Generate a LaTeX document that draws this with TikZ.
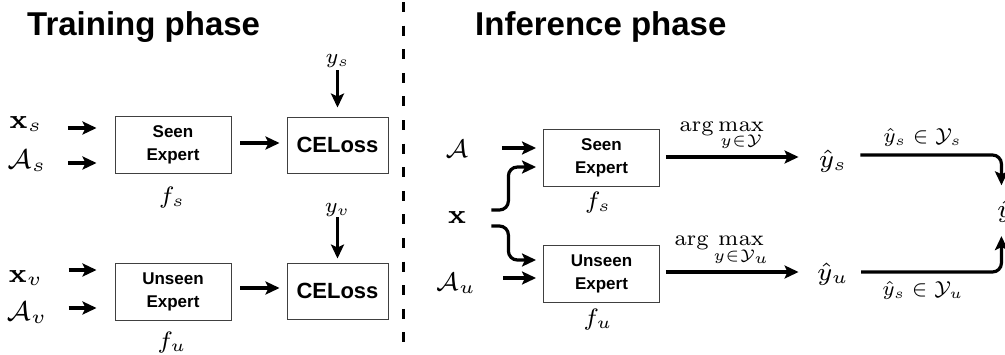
\RequirePackage{fix-cm}
\documentclass[tikz,border=0pt]{standalone}
\usepackage[no-math]{fontspec}
\usepackage{amsmath}
\setsansfont{Liberation Sans}
\usetikzlibrary{arrows.meta,calc}

% math labels are set at 7pt (wider, heavier optical size) and enlarged
\newcommand\mlab[2]{\scalebox{#1}{\fontsize{7}{8}\selectfont$#2$}}

\tikzset{
  arr/.style={line width=3.2pt, -{Stealth[length=14pt,width=13pt,inset=3pt]}},
  box/.style={draw=black!75, line width=0.9pt, minimum width=116pt, minimum height=57pt,
    inner sep=0pt, align=center, font=\sffamily\bfseries\fontsize{17}{23}\selectfont},
  loss/.style={box, minimum width=101pt, minimum height=56pt,
    font=\sffamily\bfseries\fontsize{22}{26}\selectfont},
  title/.style={font=\sffamily\bfseries\fontsize{33}{38}\selectfont, inner sep=0pt, anchor=base west},
  lbl/.style={inner sep=0pt, anchor=base},
  divider/.style={line width=3pt, dash pattern=on 10pt off 13.6pt}
}

\begin{document}
\begin{tikzpicture}[x=1pt,y=-1pt]
\useasboundingbox (0,0) rectangle (1005,354);

% headings and the divider between the two phases
\node[title] (ttrain) at (27,35) {Training phase};
\node[title] (tinf) at (475,35) {Inference phase};
\draw[divider] (403,2) -- (403,345);

% ---------- training ----------
\node[box]  (tseen)   at (173,144.5) {Seen\\Expert};
\node[loss] (tloss1)  at (337.5,145) {CELoss};
\node[box]  (tunseen) at (173,291.5) {Unseen\\Expert};
\node[loss] (tloss2)  at (337.5,291) {CELoss};

\node[lbl] (xs) at (26,128) {\mlab{3.85}{\mathbf{x}_s}};
\node[lbl] (As) at (27,168) {\mlab{3.85}{\mathcal{A}_s}};
\node[lbl] (xv) at (26,282) {\mlab{3.85}{\mathbf{x}_v}};
\node[lbl] (Av) at (27,320) {\mlab{3.85}{\mathcal{A}_v}};

\node[lbl] (ys) at (337.5,63) {\mlab{3.0}{y_s}};
\node[lbl] (yv) at (337.5,212) {\mlab{3.0}{y_v}};

\node[lbl] (fs) at (172,203) {\mlab{3.4}{f_s}};
\node[lbl] (fu) at (172,348) {\mlab{3.4}{f_u}};

\draw[arr] ($(xs.base east)+(25,0)$) -- ($(tseen.west |- xs.base)+(-18,0)$);
\draw[arr] ($(xs.base east |- As.base)+(25,-5)$) -- ($(tseen.west |- As.base)+(-18,-5)$);
\draw[arr] ($(xv.base east)+(25,-12)$) -- ($(tunseen.west |- xv.base)+(-18,-12)$);
\draw[arr] ($(xv.base east |- Av.base)+(25,-12)$) -- ($(tunseen.west |- Av.base)+(-18,-12)$);

\draw[arr] ($(tseen.east)+(9,-1.5)$) -- ($(tloss1.west)+(-7,-2)$);
\draw[arr] ($(tunseen.east)+(9,-3.5)$) -- ($(tloss2.west)+(-7,-3)$);

\draw[arr] ($(ys.base)+(0,7)$) -- ($(tloss1.north)+(0,-9)$);
\draw[arr] ($(yv.base)+(0,5)$) -- ($(tloss2.north)+(0,-4)$);

% ---------- inference ----------
\node[box] (iseen)   at (601.5,158) {Seen\\Expert};
\node[box] (iunseen) at (601.5,273.5) {Unseen\\Expert};

\node[lbl] (A)  at (457,157) {\mlab{3.6}{\mathcal{A}}};
\node[lbl] (x)  at (457,223) {\mlab{3.85}{\mathbf{x}}};
\node[lbl] (Au) at (456,290) {\mlab{3.6}{\mathcal{A}_u}};

\node[lbl] (fsi) at (598,208) {\mlab{3.4}{f_s}};
\node[lbl] (fui) at (598,325) {\mlab{3.4}{f_u}};

\draw[arr] ($(A.base east)+(33,-9)$) -- ($(iseen.west)+(-7,-10)$);
\draw[arr, rounded corners=9pt] ($(x.base east)+(25,-13)$) -- ++(17,0)
  |- ($(iseen.west)+(-7,9)$);
\draw[arr, rounded corners=9pt] ($(x.base east)+(25,3)$) -- ++(17,0)
  |- ($(iunseen.west)+(-7,-13.5)$);
\draw[arr] ($(Au.base east)+(27,-12)$) -- ($(iunseen.west)+(-7,4.5)$);

\node[lbl] (yhs) at (833,167) {\mlab{3.6}{\hat{y}_s}};
\node[lbl] (yhu) at (833,280) {\mlab{3.6}{\hat{y}_u}};
\node[lbl, anchor=base west] (yhat) at (997,217) {\mlab{3.6}{\hat{y}}};

\draw[arr] ($(iseen.east)+(6,-1)$) --
  node[inner sep=0pt, pos=0.42, above=4pt] {\mlab{3.1}{\displaystyle\arg\max_{y\in\mathcal{Y}}}}
  ($(iseen.east -| yhs.west)+(-20,-1)$);
\draw[arr] ($(iunseen.east)+(6,-1.5)$) --
  node[inner sep=0pt, pos=0.42, above=4pt] {\mlab{3.1}{\displaystyle\arg\max_{y\in\mathcal{Y}_u}}}
  ($(iunseen.east -| yhs.west)+(-20,-1.5)$);

\draw[arr, rounded corners=9pt] ($(yhs.base east)+(13,-12)$) -|
  node[inner sep=0pt, pos=0.22, above=7pt] {\mlab{2.9}{\hat{y}_s \in \mathcal{Y}_s}}
  ($(yhat.north)+(-3.5,-14)$);
\draw[arr, rounded corners=9pt] ($(yhu.base east)+(12,-8)$) -|
  node[inner sep=0pt, pos=0.22, below=8pt] {\mlab{2.9}{\hat{y}_s \in \mathcal{Y}_u}}
  ($(yhat.south)+(-3.5,14)$);
\end{tikzpicture}
\end{document}
